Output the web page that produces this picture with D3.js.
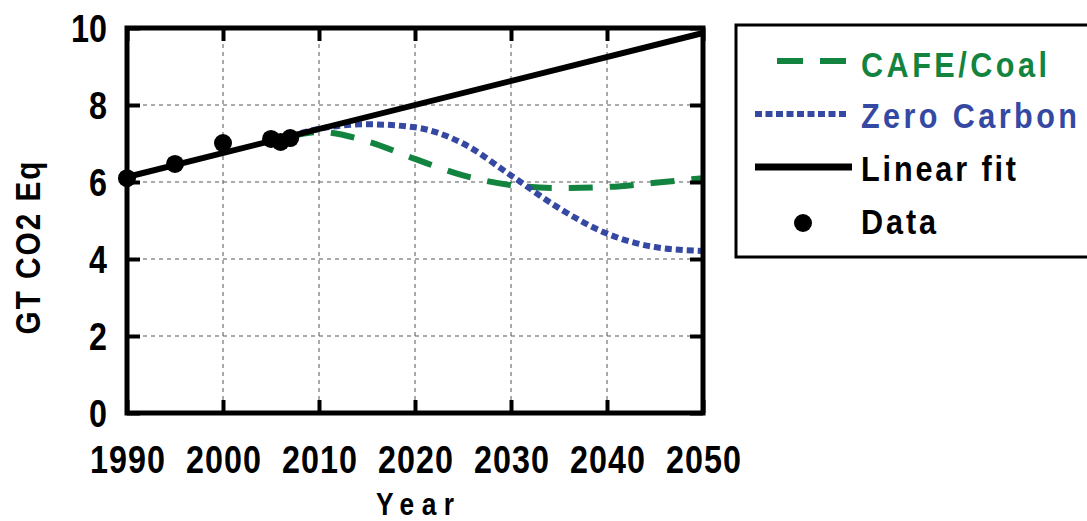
<!DOCTYPE html>
<html>
<head>
<meta charset="utf-8">
<script src="https://cdn.jsdelivr.net/npm/d3@7"></script>
<style>
  html, body { margin: 0; padding: 0; background: #fff; }
  svg { display: block; }
  text { font-family: "Liberation Sans", Arial, sans-serif; font-weight: bold; }
</style>
</head>
<body>
<svg id="chart" width="1087" height="521"></svg>
<script>
// ---- data ----
const dataYears = [1990, 1995, 2000, 2005, 2006, 2007];
const dataValues = [6.10, 6.47, 7.01, 7.12, 7.04, 7.14];

const fitYears = [1990, 2050];
const fitValues = [6.13, 9.87];

const scenarioYears = [2007, 2010, 2015, 2020, 2025, 2030, 2035, 2040, 2045, 2050];
const cafeCoal = [7.19, 7.30, 7.06, 6.60, 6.17, 5.92, 5.84, 5.87, 5.98, 6.10];
const zeroCarbon = [7.19, 7.38, 7.50, 7.42, 7.00, 6.17, 5.32, 4.66, 4.31, 4.21];

const xTicks = [1990, 2000, 2010, 2020, 2030, 2040, 2050];
const yTicks = [0, 2, 4, 6, 8, 10];

const legendLabels = ["CAFE/Coal", "Zero Carbon", "Linear fit", "Data"];

// ---- layout ----
const svg = d3.select("#chart");
const L = 127, R = 703, T = 28, B = 413;
const x = d3.scaleLinear().domain([1990, 2050]).range([L, R]);
const y = d3.scaleLinear().domain([0, 10]).range([B, T]);

const GREEN = "#13843f", BLUE = "#3549a3";
const SX = 0.85; // horizontal condensing of the text glyphs

// gridlines
const grid = svg.append("g");
grid.selectAll(".gx").data(xTicks.slice(1, -1)).join("line")
  .attr("x1", d => x(d)).attr("x2", d => x(d)).attr("y1", T).attr("y2", B)
  .attr("stroke", "#555").attr("stroke-width", 1).attr("stroke-dasharray", "4,4");
grid.selectAll(".gy").data(yTicks.slice(0, -1)).join("line")
  .attr("x1", L).attr("x2", R).attr("y1", d => y(d)).attr("y2", d => y(d))
  .attr("stroke", "#555").attr("stroke-width", 1).attr("stroke-dasharray", "4,4");

// scenario curves
const line = d3.line().x(d => x(d[0])).y(d => y(d[1])).curve(d3.curveMonotoneX);
svg.append("path").datum(scenarioYears.map((yr, i) => [yr, cafeCoal[i]]))
  .attr("d", line).attr("fill", "none").attr("stroke", GREEN)
  .attr("stroke-width", 6).attr("stroke-dasharray", "24,17");
svg.append("path").datum(scenarioYears.map((yr, i) => [yr, zeroCarbon[i]]))
  .attr("d", line).attr("fill", "none").attr("stroke", BLUE)
  .attr("stroke-width", 6).attr("stroke-dasharray", "7,4");

// linear fit
svg.append("path").datum(fitYears.map((yr, i) => [yr, fitValues[i]]))
  .attr("d", d3.line().x(d => x(d[0])).y(d => y(d[1])))
  .attr("fill", "none").attr("stroke", "#000").attr("stroke-width", 6);

// data points
svg.selectAll(".pt").data(dataYears.map((yr, i) => [yr, dataValues[i]])).join("circle")
  .attr("cx", d => x(d[0])).attr("cy", d => y(d[1])).attr("r", 9).attr("fill", "#000");

// condensed text helper
function condense(sel, tx, ty, width) {
  sel.attr("x", 0).attr("y", 0)
    .attr("transform", `translate(${tx},${ty}) scale(${SX},1)`)
    .attr("textLength", width / SX).attr("lengthAdjust", "spacing");
}

// axes with inward ticks
const tickLen = 13;
const axB = svg.append("g").attr("transform", `translate(0,${B})`)
  .call(d3.axisBottom(x).tickValues(xTicks).tickSize(-tickLen).tickPadding(0).tickFormat(d3.format("d")));
const axT = svg.append("g").attr("transform", `translate(0,${T})`)
  .call(d3.axisTop(x).tickValues(xTicks).tickSize(-tickLen).tickFormat(""));
const axLft = svg.append("g").attr("transform", `translate(${L},0)`)
  .call(d3.axisLeft(y).tickValues(yTicks).tickSize(-tickLen).tickFormat(d3.format("d")));
const axRt = svg.append("g").attr("transform", `translate(${R},0)`)
  .call(d3.axisRight(y).tickValues(yTicks).tickSize(-tickLen).tickFormat(""));
[axB, axT, axLft, axRt].forEach(g => {
  g.select(".domain").remove();
  g.selectAll(".tick line").attr("stroke", "#000").attr("stroke-width", 4);
});
axB.selectAll(".tick text")
  .attr("dy", 0).attr("font-size", 38).attr("fill", "#000")
  .attr("font-family", "Liberation Sans, Arial, sans-serif").attr("font-weight", "bold")
  .each(function () { condense(d3.select(this), 0, 60, 75); });
axLft.selectAll(".tick text")
  .attr("dy", "0.36em").attr("font-size", 38).attr("fill", "#000")
  .attr("font-family", "Liberation Sans, Arial, sans-serif").attr("font-weight", "bold")
  .each(function (d) { condense(d3.select(this), -20, 0, d >= 10 ? 36 : 16); });

// frame
svg.append("rect").attr("x", L).attr("y", T).attr("width", R - L).attr("height", B - T)
  .attr("fill", "none").attr("stroke", "#000").attr("stroke-width", 5);

// axis titles
svg.append("text").attr("text-anchor", "middle").attr("font-size", 31)
  .call(condense, (L + R) / 2, 515, 78).text("Year");
svg.append("text").attr("text-anchor", "middle").attr("font-size", 35)
  .attr("x", 0).attr("y", 0)
  .attr("transform", `translate(40,248) rotate(-90) scale(${SX},1)`)
  .attr("textLength", 173 / SX).attr("lengthAdjust", "spacing")
  .text("GT CO2 Eq");

// legend
const lg = svg.append("g");
lg.append("rect").attr("x", 736).attr("y", 25).attr("width", 400).attr("height", 232)
  .attr("fill", "#fff").attr("stroke", "#000").attr("stroke-width", 3);
const rowY = [61, 114, 167, 223];
const baseY = [77, 128, 181, 234];
const textW = [186, 216, 155, 75];
const textColors = [GREEN, BLUE, "#000", "#000"];
lg.append("line").attr("x1", 777).attr("x2", 846).attr("y1", rowY[0]).attr("y2", rowY[0])
  .attr("stroke", GREEN).attr("stroke-width", 6).attr("stroke-dasharray", "26,17");
lg.append("line").attr("x1", 755).attr("x2", 849).attr("y1", rowY[1]).attr("y2", rowY[1])
  .attr("stroke", BLUE).attr("stroke-width", 6).attr("stroke-dasharray", "7,3.5");
lg.append("line").attr("x1", 755).attr("x2", 852).attr("y1", rowY[2]).attr("y2", rowY[2])
  .attr("stroke", "#000").attr("stroke-width", 7);
lg.append("circle").attr("cx", 803).attr("cy", rowY[3]).attr("r", 9).attr("fill", "#000");
lg.selectAll(".lt").data(legendLabels).join("text")
  .attr("font-size", 36).attr("fill", (d, i) => textColors[i])
  .each(function (d, i) { condense(d3.select(this), 861, baseY[i], textW[i]); })
  .text(d => d);
</script>
</body>
</html>
